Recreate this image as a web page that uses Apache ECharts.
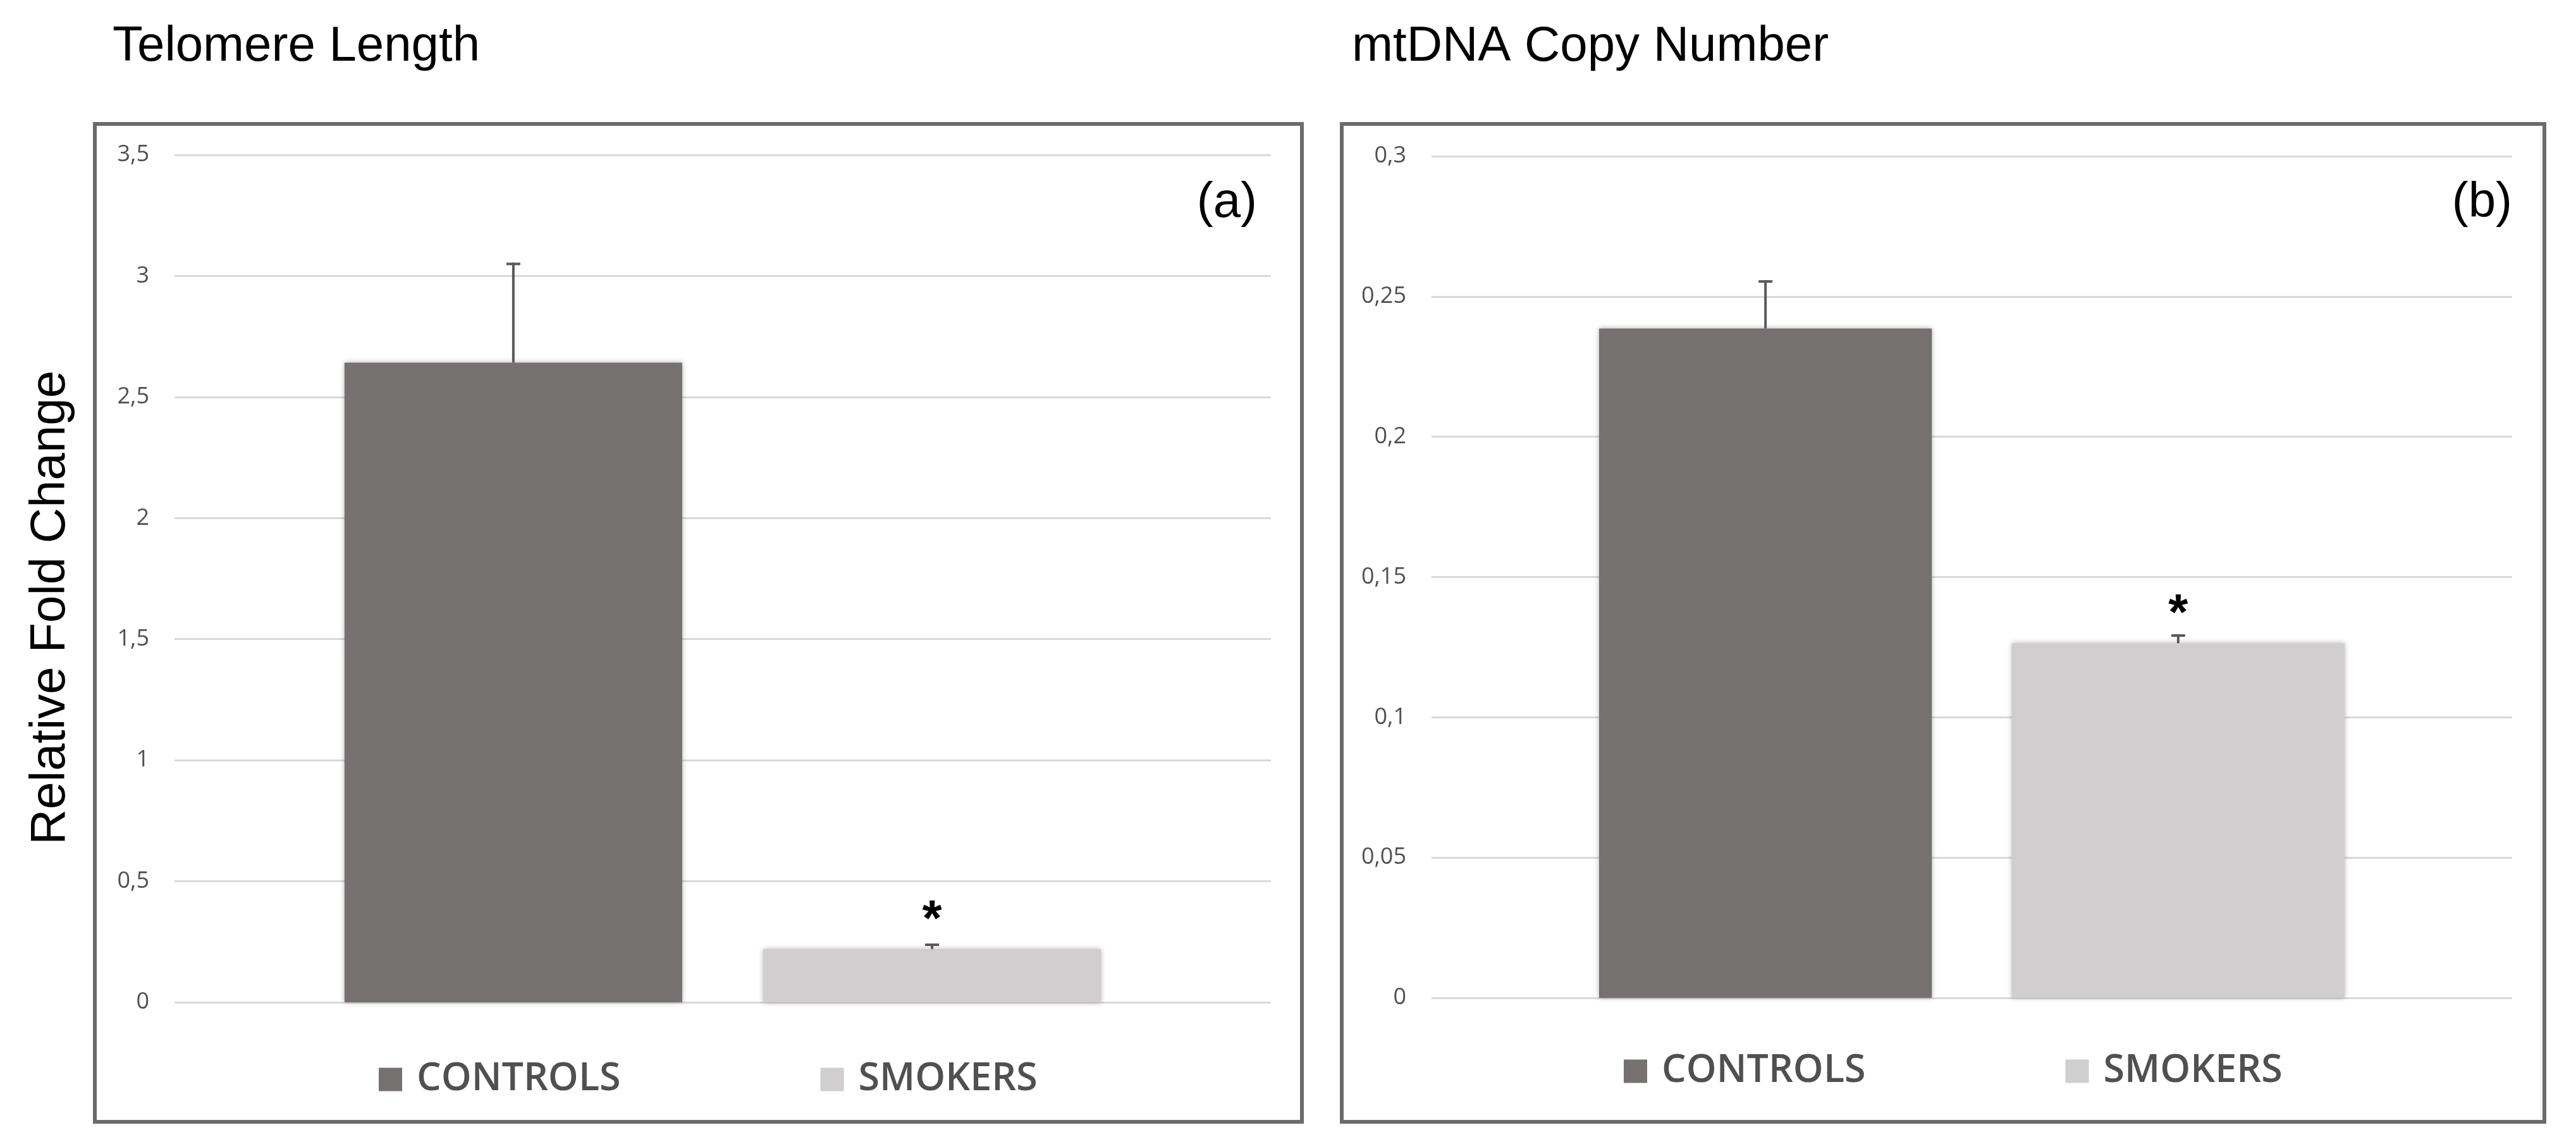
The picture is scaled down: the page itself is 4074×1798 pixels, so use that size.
<!DOCTYPE html>
<html><head><meta charset="utf-8">
<script src="https://cdn.jsdelivr.net/npm/echarts@6/dist/echarts.min.js"></script>
<style>html,body{margin:0;padding:0;background:#fff}#c{width:4074px;height:1798px}</style>
</head><body><div id="c"></div><script>
// ---- data ----
const groups = ['CONTROLS', 'SMOKERS'];
const telomereMean = [2.642, 0.22];
const telomereErr = [0.413, 0.023];
const mtdnaMean = [0.2386, 0.1264];
const mtdnaErr = [0.0172, 0.0032];
const significance = ['', '*'];
const telomereTicks = ['0', '0,5', '1', '1,5', '2', '2,5', '3', '3,5'];
const mtdnaTicks = ['0', '0,05', '0,1', '0,15', '0,2', '0,25', '0,3'];
const panelTitles = ['Telomere Length', 'mtDNA Copy Number'];
const panelTags = ['(a)', '(b)'];
const yName = 'Relative Fold Change';

// ---- style ----
const colors = ['#767171', '#D0CECE'];
const BAR_W = 0.308, BAR_GAP = 0.24;
const tickFont = 'Open Sans';
const titleFont = 'Liberation Sans';

const chart = echarts.init(document.getElementById('c'));

function errSeries(gridIdx, means, errs) {
  return {
    type: 'custom', xAxisIndex: gridIdx, yAxisIndex: gridIdx, z: 5,
    data: means.map((m, i) => [0, m, errs[i], i]),
    encode: {x: 0, y: 1},
    silent: true,
    renderItem: function (params, api) {
      const mean = api.value(1), err = api.value(2), gi = api.value(3);
      const band = api.size([1, 0])[0];
      const bw = band * BAR_W;
      const off = bw * (1 + BAR_GAP) / 2 * (gi === 0 ? -1 : 1);
      const p0 = api.coord([0, mean]);
      const p1 = api.coord([0, mean + err]);
      const x = p0[0] + off;
      const children = [
        {type: 'line', shape: {x1: x, y1: p0[1], x2: x, y2: p1[1]}, style: {stroke: '#595959', lineWidth: 4}},
        {type: 'line', shape: {x1: x - 11, y1: p1[1] + 2, x2: x + 11, y2: p1[1] + 2}, style: {stroke: '#595959', lineWidth: 4}}
      ];
      const mark = significance[params.dataIndex];
      if (mark) {
        children.push({type: 'text', style: {text: mark, x: x, y: p0[1] - 44, align: 'center', verticalAlign: 'middle',
          fontSize: 80, fontWeight: 'bold', fontFamily: titleFont, fill: '#000'}});
      }
      return {type: 'group', children: children};
    }
  };
}

function barSeries(gridIdx, means) {
  return means.map((m, i) => ({
    type: 'bar', name: groups[i], xAxisIndex: gridIdx, yAxisIndex: gridIdx,
    data: [m], barWidth: (BAR_W * 100) + '%', barGap: (BAR_GAP * 100) + '%',
    itemStyle: {color: colors[i], shadowBlur: 8, shadowColor: 'rgba(0,0,0,0.3)'},
    silent: true
  }));
}

function yAxis(gridIdx, max, interval, ticks) {
  return {
    type: 'value', gridIndex: gridIdx, min: 0, max: max, interval: interval,
    axisLine: {show: false}, axisTick: {show: false},
    axisLabel: {margin: 40, color: '#505050', fontFamily: tickFont, fontSize: 36,
      formatter: (v, idx) => ticks[idx]},
    splitLine: {lineStyle: {color: '#D9D9D9', width: 3}}
  };
}

const textStyleBase = {fontFamily: titleFont, fontSize: 78, fill: '#000', verticalAlign: 'middle'};

chart.setOption({
  animation: false,
  backgroundColor: '#fff',
  grid: [
    {left: 276, top: 245, width: 1734, height: 1340},
    {left: 2264, top: 247, width: 1709, height: 1331}
  ],
  xAxis: [0, 1].map(g => ({type: 'category', gridIndex: g, data: [''], axisLine: {show: false}, axisTick: {show: false}, axisLabel: {show: false}})),
  yAxis: [yAxis(0, 3.5, 0.5, telomereTicks), yAxis(1, 0.3, 0.05, mtdnaTicks)],
  legend: [
    {left: 594, top: 1671, data: groups},
    {left: 2563, top: 1658, data: groups}
  ].map(l => Object.assign(l, {icon: 'rect', itemWidth: 37, itemHeight: 37, itemGap: 316, selectedMode: false,
    textStyle: {fontFamily: tickFont, fontSize: 61, fontWeight: 600, lineHeight: 62, color: '#505050', padding: [0, 0, 0, 18]}})),
  series: [].concat(barSeries(0, telomereMean), barSeries(1, mtdnaMean),
    [errSeries(0, telomereMean, telomereErr), errSeries(1, mtdnaMean, mtdnaErr)]),
  graphic: [
    {type: 'rect', shape: {x: 150, y: 196, width: 1909, height: 1578}, style: {fill: 'none', stroke: '#6b6b6b', lineWidth: 6}, z: 10},
    {type: 'rect', shape: {x: 2122, y: 196, width: 1902, height: 1578}, style: {fill: 'none', stroke: '#6b6b6b', lineWidth: 6}, z: 10},
    {type: 'text', style: Object.assign({text: panelTitles[0], x: 178, y: 74, align: 'left'}, textStyleBase)},
    {type: 'text', style: Object.assign({text: panelTitles[1], x: 2138, y: 74, align: 'left'}, textStyleBase)},
    {type: 'text', style: Object.assign({text: panelTags[0], x: 1988, y: 321, align: 'right'}, textStyleBase)},
    {type: 'text', style: Object.assign({text: panelTags[1], x: 3973, y: 321, align: 'right'}, textStyleBase)},
    {type: 'text', x: 80, y: 961, rotation: Math.PI / 2, style: Object.assign({text: yName, x: 0, y: 0, align: 'center'}, textStyleBase)}
  ]
});
</script></body></html>
